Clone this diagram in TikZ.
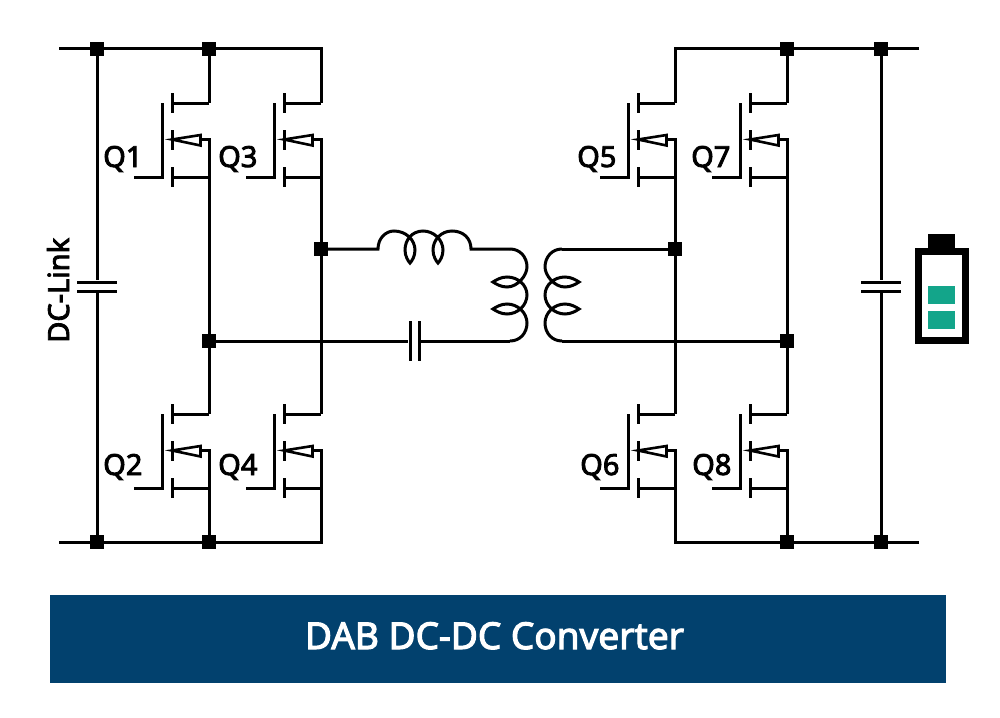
\documentclass[tikz,border=0pt]{standalone}
\usepackage{fontspec}
\usepackage{tikz}
\newfontfamily\labelfont[FakeBold=3]{Noto Sans}
\definecolor{banner}{HTML}{02416E}
\definecolor{cell}{HTML}{13A58A}

\tikzset{
	wire/.style={line width=3pt,black},
	junction/.style={fill=black,inner sep=0pt,minimum size=14pt},
	plate/.style={fill=black,inner sep=0pt,minimum width=3pt,minimum height=40pt},
	qlabel/.style={anchor=base west,inner sep=0pt,font=\labelfont\fontsize{29}{29}\selectfont},
	mosfet/.pic={
		\coordinate (-d) at (0,0);
		\coordinate (-s) at (0,36.5);
		\coordinate (-b) at (0,74);
		\draw[wire] (-75,74) -- (-47,74) -- (-47,0);
		\draw[wire] (-37,-10) -- (-37,10);
		\draw[wire] (-37,27) -- (-37,47);
		\draw[wire] (-37,64) -- (-37,84);
		\draw[wire] (-37,0) -- (-d);
		\draw[wire] (-37,74) -- (-b);
		\draw[wire,line width=2.6pt] (-37,36.5) -- (-8.5,32) -- (-8.5,42.5) -- cycle;
		\draw[wire] (-8.5,36.5) -- (-s) -- (-b);
	},
	winding/.pic={
		\coordinate (-a) at (0,0);
		\coordinate (-z) at (0,92);
		\draw[wire] (-a) .. controls (10,0) and (17,8) .. (17,18)
			.. controls (17,26) and (8,38) .. (-3,38)
			.. controls (-9,38) and (-14,35) .. (-17,33)
			.. controls (-14,31) and (-9,28) .. (-3,28)
			.. controls (8,28) and (17,36) .. (17,46)
			.. controls (17,56) and (8,65) .. (-3,65)
			.. controls (-9,65) and (-14,62) .. (-17,60)
			.. controls (-14,58) and (-9,55) .. (-3,55)
			.. controls (8,55) and (17,64) .. (17,74)
			.. controls (17,84) and (10,92) .. (-z);
	}
}

\begin{document}
\begin{tikzpicture}[x=1pt,y=-1pt]
	\useasboundingbox (0,0) rectangle (1000,717);

	\node[junction] (jTL)  at (97,49)   {};
	\node[junction] (jT1)  at (209,49)  {};
	\node[junction] (jBL)  at (97,542)  {};
	\node[junction] (jB1)  at (209,542) {};
	\node[junction] (jA)   at (321,249) {};
	\node[junction] (jB)   at (209,341) {};
	\node[junction] (jC)   at (675,249) {};
	\node[junction] (jD)   at (787,341) {};
	\node[junction] (jT7)  at (787,49)  {};
	\node[junction] (jTR)  at (881,49)  {};
	\node[junction] (jB8)  at (787,542) {};
	\node[junction] (jBR)  at (881,542) {};

	\coordinate (inTL) at (59,49);
	\coordinate (inBL) at (59,542);
	\coordinate (outTR) at (919,49);
	\coordinate (outBR) at (919,542);

	\pic (Q1) at (209,103) {mosfet};
	\pic (Q2) at (209,414) {mosfet};
	\pic (Q3) at (321,103) {mosfet};
	\pic (Q4) at (321,414) {mosfet};
	\pic (Q5) at (675,103) {mosfet};
	\pic (Q6) at (675,414) {mosfet};
	\pic (Q7) at (787,103) {mosfet};
	\pic (Q8) at (787,414) {mosfet};

	\node[qlabel] (lQ1) at (103,167) {Q1};
	\node[qlabel] (lQ3) at (218,167) {Q3};
	\node[qlabel] (lQ2) at (103,475) {Q2};
	\node[qlabel] (lQ4) at (218,475) {Q4};
	\node[qlabel] (lQ5) at (577,167) {Q5};
	\node[qlabel] (lQ7) at (691,167) {Q7};
	\node[qlabel] (lQ6) at (580,475) {Q6};
	\node[qlabel] (lQ8) at (692,475) {Q8};

	% dc link and output capacitors
	\node[plate,rotate=90] (cLa) at (97,282)  {};
	\node[plate,rotate=90] (cLb) at (97,291)  {};
	\node[plate,rotate=90] (cRa) at (881,282) {};
	\node[plate,rotate=90] (cRb) at (881,291) {};
	\node[plate] (cSa) at (410,341) {};
	\node[plate] (cSb) at (419,341) {};

	\node[qlabel,rotate=90] (lDC) at (69,343) {DC-Link};

	% left bridge
	\draw[wire] (inTL) -- (jTL) -- (jT1) -| (Q3-d);
	\draw[wire] (inBL) -- (jBL) -- (jB1) -| (Q4-b);
	\draw[wire] (jTL) -- (cLa);
	\draw[wire] (cLb) -- (jBL);
	\draw[wire] (jT1) -- (Q1-d);
	\draw[wire] (Q1-b) -- (jB) -- (Q2-d);
	\draw[wire] (Q2-b) -- (jB1);
	\draw[wire] (Q3-b) -- (jA) -- (Q4-d);

	% right bridge
	\draw[wire] (outTR) -- (jTR) -- (jT7) -| (Q5-d);
	\draw[wire] (outBR) -- (jBR) -- (jB8) -| (Q6-b);
	\draw[wire] (jTR) -- (cRa);
	\draw[wire] (cRb) -- (jBR);
	\draw[wire] (jT7) -- (Q7-d);
	\draw[wire] (Q7-b) -- (jD) -- (Q8-d);
	\draw[wire] (Q8-b) -- (jB8);
	\draw[wire] (Q5-b) -- (jC) -- (Q6-d);

	% resonant tank and transformer
	\coordinate (Lin) at (378,249);
	\coordinate (Lout) at (471,249);
	\pic (pri) at (510,249) {winding};
	\pic[xscale=-1] (sec) at (562,249) {winding};
	\draw[wire] (jA) -- (Lin)
		.. controls (378,238) and (386,231) .. (394,231)
		.. controls (406,231) and (415,240) .. (415,250)
		.. controls (415,256) and (412,261) .. (410,263)
		.. controls (408,261) and (405,256) .. (405,250)
		.. controls (405,240) and (412,231) .. (423,231)
		.. controls (434,231) and (443,240) .. (443,250)
		.. controls (443,256) and (440,261) .. (438,263)
		.. controls (436,261) and (433,256) .. (433,250)
		.. controls (433,240) and (441,231) .. (452,231)
		.. controls (463,231) and (471,238) .. (Lout)
		-- (pri-a);
	\draw[wire] (jB) -- (cSa);
	\draw[wire] (cSb) -- (pri-z);
	\draw[wire] (sec-a) -- (jC);
	\draw[wire] (sec-z) -- (jD);

	% battery
	\fill (928,234) rectangle (955,250);
	\draw[line width=7pt] (918.5,251) rectangle (965.5,340.5);
	\fill[cell] (928,286) rectangle (955,304);
	\fill[cell] (928,311) rectangle (955,329);

	\node[fill=banner,inner sep=0pt,minimum width=896pt,minimum height=88pt] (title) at (498,639) {};
	\node[anchor=base,inner sep=0pt,text=white,font=\labelfont\fontsize{37}{37}\selectfont] (titletext) at (494.5,649) {DAB DC-DC Converter};
\end{tikzpicture}
\end{document}
